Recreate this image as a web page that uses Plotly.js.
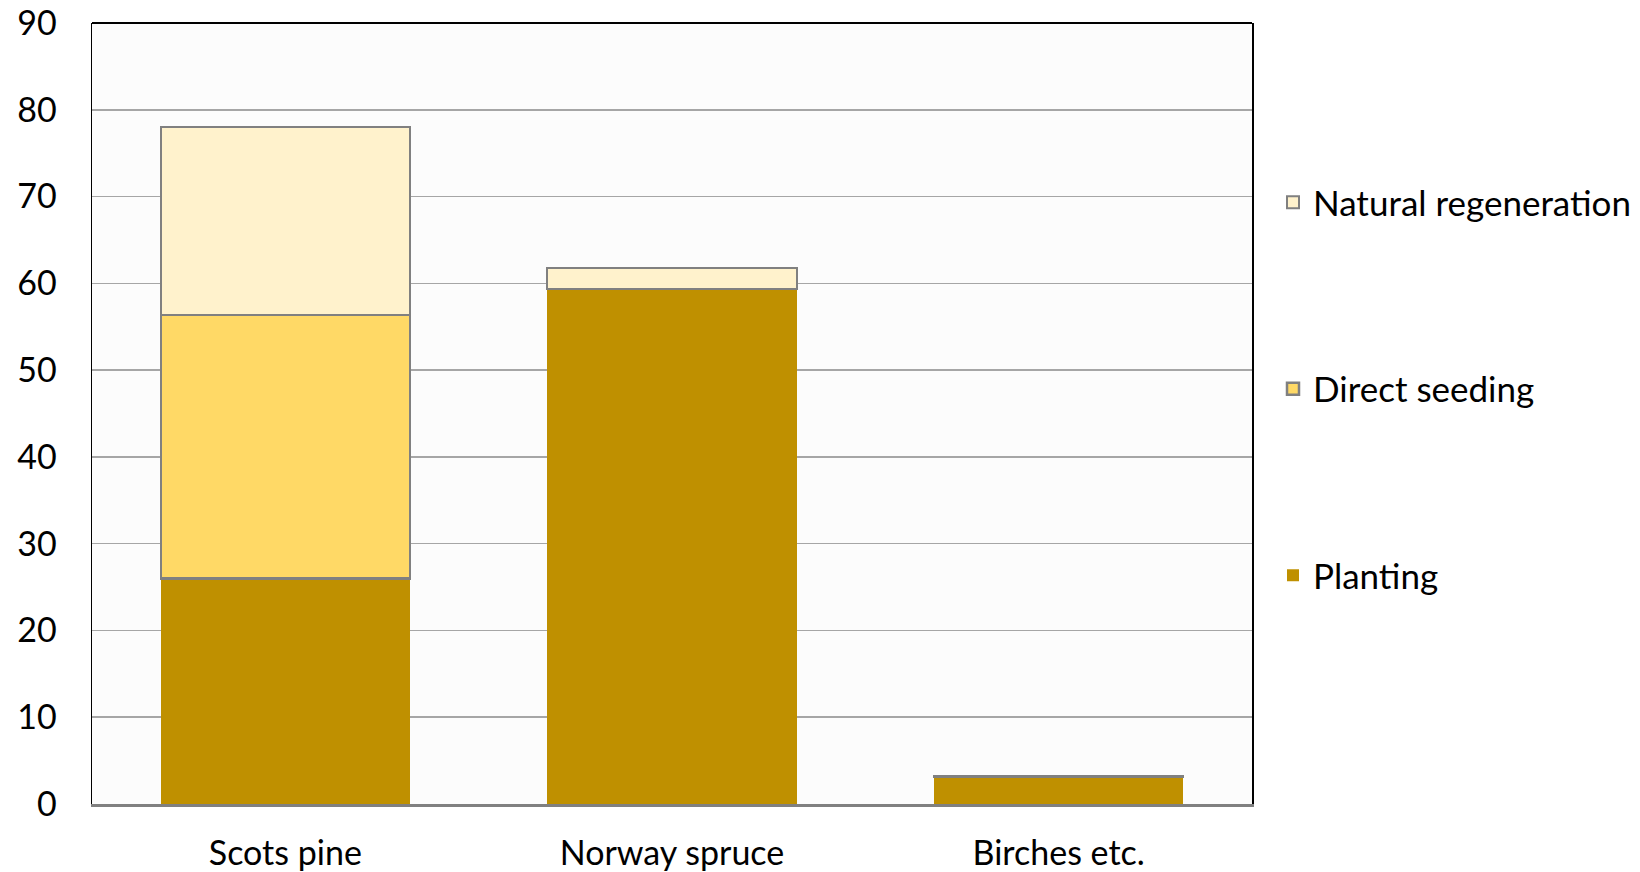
<!DOCTYPE html>
<html>
<head>
<meta charset="utf-8">
<script src="https://cdn.plot.ly/plotly-3.0.1.min.js"></script>
<style>html,body{margin:0;padding:0;background:#fff;}#chart{width:1640px;height:872px;}</style>
</head>
<body>
<div id="chart"></div>
<script>
const categories = ["Scots pine", "Norway spruce", "Birches etc."];
const planting = [26.0, 59.4, 3.1];
const directSeeding = [30.4, 0.0, 0.1];
const naturalRegeneration = [21.6, 2.4, 0.0];
const yTicks = [0, 10, 20, 30, 40, 50, 60, 70, 80, 90];

const FONT = "Lato";
const FS = 34;
const traces = [
  {type: "bar", name: "Planting", x: categories, y: planting, legendgroup: "p", legendrank: 3,
   marker: {color: "#BF9000", line: {width: 0}}},
  {type: "bar", name: "Direct seeding", x: categories, y: directSeeding, legendgroup: "d", legendrank: 2,
   marker: {color: "#FFD966", line: {color: "#808080", width: 2.5}}},
  {type: "bar", name: "Natural regeneration", x: categories, y: naturalRegeneration, legendgroup: "n", legendrank: 1,
   marker: {color: "#FFF2CC", line: {color: "#808080", width: 2}}}
];

const layout = {
  width: 1640, height: 872,
  margin: {l: 92, r: 388, t: 23, b: 68},
  paper_bgcolor: "#FFFFFF",
  plot_bgcolor: "#FCFCFC",
  barmode: "stack",
  bargap: 0.356,
  font: {family: FONT, size: FS, color: "#000"},
  showlegend: true,
  legend: {
    xref: "container", yref: "container",
    x: 1273/1640, y: 1 - 173/872, xanchor: "left", yanchor: "top",
    traceorder: "grouped",
    tracegroupgap: 138,
    font: {family: FONT, size: 35, color: "#000"},
    bgcolor: "rgba(0,0,0,0)"
  },
  xaxis: {
    type: "category",
    showline: true, linecolor: "#808080", linewidth: 3,
    showgrid: false, ticks: "", ticklabelstandoff: 17,
    tickfont: {family: FONT, size: FS, color: "#000"}
  },
  yaxis: {
    range: [0, 90], tickvals: yTicks, ticktext: yTicks.map(String),
    showline: true, linecolor: "#000", linewidth: 1.5, mirror: true,
    showgrid: true, gridcolor: "#A6A6A6", gridwidth: 1.5,
    zeroline: false, ticks: "", ticklabelstandoff: 27,
    tickfont: {family: FONT, size: FS, color: "#000"}
  },
  shapes: [
    {type: "line", xref: "paper", yref: "paper", x0: 0, x1: 1, y0: 1, y1: 1,
     line: {color: "#000", width: 2}}
  ]
};

Plotly.newPlot("chart", traces, layout, {displayModeBar: false, staticPlot: true});
</script>
</body>
</html>
